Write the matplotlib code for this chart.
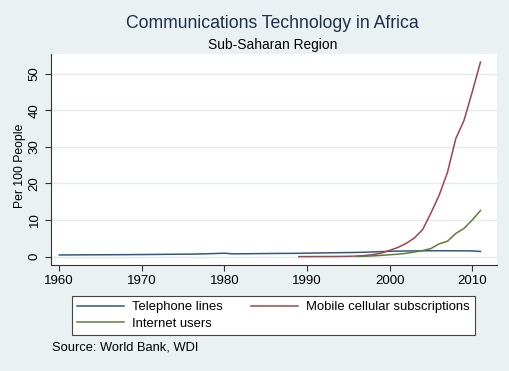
import matplotlib
matplotlib.use("Agg")
import matplotlib.pyplot as plt

# ---------------------------------------------------------------------------
# Dane
# ---------------------------------------------------------------------------
tel_years = list(range(1960, 2012))
tel_values = [0.45, 0.46, 0.47, 0.48, 0.49, 0.50, 0.51, 0.52, 0.53, 0.55,
              0.56, 0.58, 0.60, 0.62, 0.64, 0.66, 0.68, 0.72, 0.78, 0.85,
              0.92, 0.75, 0.77, 0.79, 0.81, 0.83, 0.85, 0.87, 0.88, 0.90,
              0.95, 0.98, 1.01, 1.04, 1.07, 1.10, 1.14, 1.20, 1.28, 1.36,
              1.45, 1.50, 1.53, 1.55, 1.58, 1.60, 1.60, 1.60, 1.58, 1.58,
              1.55, 1.40]

mob_years = list(range(1989, 2012))
mob_values = [0.0, 0.0, 0.01, 0.02, 0.03, 0.05, 0.08, 0.15, 0.3, 0.55,
              0.95, 1.7, 2.5, 3.6, 5.1, 7.4, 11.9, 16.8, 23.0, 32.2,
              37.2, 45.0, 53.2]

net_years = list(range(1996, 2012))
net_values = [0.05, 0.1, 0.2, 0.35, 0.5, 0.65, 0.9, 1.25, 1.65, 2.2,
              3.5, 4.2, 6.3, 7.7, 10.0, 12.6]

x_ticks = [1960, 1970, 1980, 1990, 2000, 2010]
y_ticks = [0, 10, 20, 30, 40, 50]

# ---------------------------------------------------------------------------
# Styl (Stata s2color)
# ---------------------------------------------------------------------------
BG = "#EAF1F3"
GRID = "#E2EAEE"
NAVY = "#2E5A82"
MAROON = "#A0444C"
GREEN = "#5E7D3A"
plt.rcParams["font.family"] = ["Liberation Sans", "DejaVu Sans"]

fig = plt.figure(figsize=(5.10, 3.71), dpi=100, facecolor=BG)
ax = fig.add_axes([0.1, 0.2857, 0.8745, 0.5687])
ax.set_facecolor("white")

l_tel, = ax.plot(tel_years, tel_values, color=NAVY, lw=1.1)
l_mob, = ax.plot(mob_years, mob_values, color=MAROON, lw=1.1)
l_net, = ax.plot(net_years, net_values, color=GREEN, lw=1.1)

ax.set_xlim(1959.0, 2013.0)
ax.set_ylim(-2.3, 55.4)
ax.set_xticks(x_ticks)
ax.set_yticks(y_ticks)
ax.grid(axis="y", color=GRID, lw=1.0)
ax.set_axisbelow(True)
for s in ("top", "right"):
    ax.spines[s].set_visible(False)
for s in ("left", "bottom"):
    ax.spines[s].set_color("#333333")
    ax.spines[s].set_linewidth(0.8)
ax.tick_params(axis="both", colors="#333333", labelcolor="black",
               labelsize=9.5, length=4, width=0.8)
for lbl in ax.get_yticklabels():
    lbl.set_rotation(90)
    lbl.set_va("center")
ax.set_ylabel("Per 100 People", fontsize=8.8)
ax.yaxis.set_label_coords(-0.056, 0.47)

fig.text(0.535, 0.938, "Communications Technology in Africa",
         ha="center", va="center", fontsize=12.7, color="#1E2D4A")
fig.text(0.535, 0.878, "Sub-Saharan Region",
         ha="center", va="center", fontsize=9.9)

leg = fig.legend([l_tel, l_net, l_mob],
                 ["Telephone lines", "Internet users",
                  "Mobile cellular subscriptions"],
                 ncol=2, mode="expand", loc="lower left",
                 bbox_to_anchor=(72 / 510, 1 - 335 / 371, 403 / 510, 42 / 371),
                 bbox_transform=fig.transFigure,
                 fontsize=9.4, handlelength=3.6, handletextpad=0.6,
                 borderaxespad=0, labelspacing=0.32, fancybox=False,
                 edgecolor="#444444", framealpha=1)
leg.get_frame().set_linewidth(0.8)

fig.text(52 / 510, 1 - 348 / 371, "Source: World Bank, WDI",
         ha="left", va="center", fontsize=9.3)

fig.savefig("out.png", dpi=100, facecolor=BG)
